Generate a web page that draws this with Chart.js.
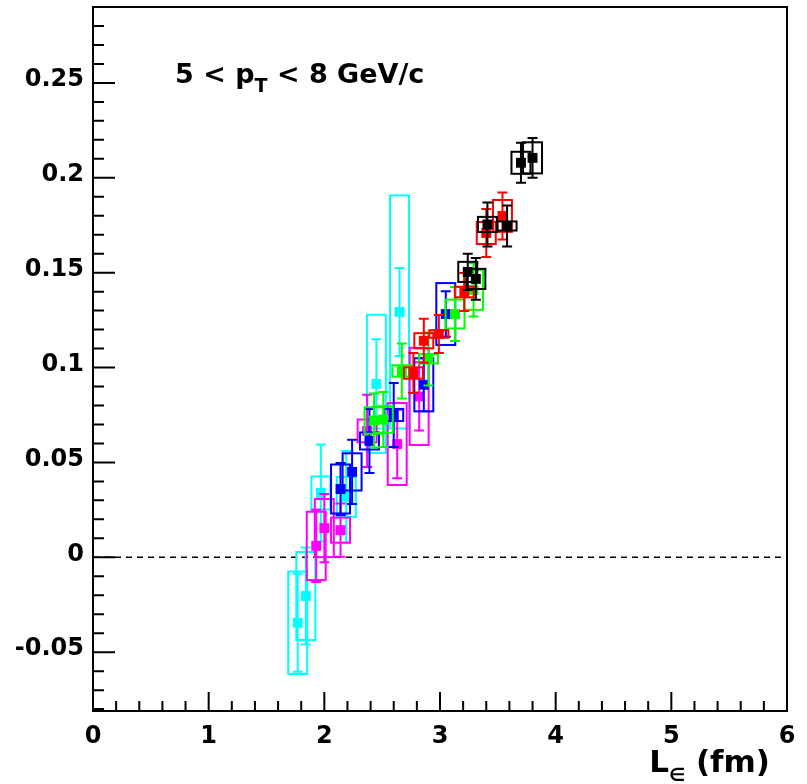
<!DOCTYPE html>
<html>
<head>
<meta charset="utf-8">
<script src="https://cdn.jsdelivr.net/npm/chart.js@4.4.1/dist/chart.umd.min.js"></script>
<style>
  html, body { margin: 0; padding: 0; background: #fff; }
  canvas { display: block; }
</style>
</head>
<body>
<canvas id="c" width="807" height="784"></canvas>
<script>
// Values: path length L (fm), value, stat. error, syst. error (box half-height).
const cyanL    = [1.77, 1.84, 1.97, 2.19, 2.45, 2.65];
const cyanV    = [-0.0345, -0.0204, 0.0339, 0.0318, 0.0914, 0.1293];
const cyanStat = [0.0258, 0.0256, 0.0256, 0.0242, 0.0235, 0.0232];
const cyanSys  = [0.027, 0.0232, 0.0087, 0.0105, 0.0364, 0.0614];

const magentaL    = [1.93, 2.0, 2.14, 2.37, 2.63, 2.82];
const magentaV    = [0.006, 0.0154, 0.0143, 0.0666, 0.0597, 0.0848];
const magentaStat = [0.019, 0.018, 0.014, 0.019, 0.018, 0.018];
const magentaSys  = [0.018, 0.0153, 0.0066, 0.006, 0.0216, 0.0256];

const blueL    = [2.14, 2.24, 2.39, 2.60, 2.86, 3.05];
const blueV    = [0.036, 0.045, 0.0613, 0.075, 0.0909, 0.1282];
const blueStat = [0.0137, 0.0169, 0.0169, 0.0169, 0.014, 0.012];
const blueSys  = [0.0129, 0.0098, 0.0045, 0.0032, 0.014, 0.0163];

const greenL    = [2.43, 2.51, 2.67, 2.90, 3.13, 3.29];
const greenV    = [0.0721, 0.0726, 0.0982, 0.1046, 0.1282, 0.1409];
const greenStat = [0.0142, 0.0145, 0.0145, 0.014, 0.0142, 0.014];
const greenSys  = [0.007, 0.007, 0.003, 0.0025, 0.0076, 0.0105];

const redL    = [2.77, 2.86, 2.99, 3.21, 3.40, 3.54];
const redV    = [0.0971, 0.1141, 0.1177, 0.1398, 0.1709, 0.1799];
const redStat = [0.0105, 0.0116, 0.010, 0.010, 0.0127, 0.0124];
const redSys  = [0.003, 0.004, 0.002, 0.0028, 0.0058, 0.0084];

const blackL    = [3.24, 3.31, 3.41, 3.58, 3.70, 3.80];
const blackV    = [0.1504, 0.1467, 0.1754, 0.1746, 0.2079, 0.2105];
const blackStat = [0.0095, 0.011, 0.0116, 0.0108, 0.0105, 0.0105];
const blackSys  = [0.0053, 0.0053, 0.004, 0.0024, 0.0058, 0.0082];

const xTicks = [0, 1, 2, 3, 4, 5, 6];
const yTickLabels = ['-0.05', '0', '0.05', '0.1', '0.15', '0.2', '0.25'];

const SERIES = [
  { color: '#00ffff', x: cyanL,    y: cyanV,    stat: cyanStat,    sys: cyanSys },
  { color: '#ff00ff', x: magentaL, y: magentaV, stat: magentaStat, sys: magentaSys },
  { color: '#0000ff', x: blueL,    y: blueV,    stat: blueStat,    sys: blueSys },
  { color: '#00ff00', x: greenL,   y: greenV,   stat: greenStat,   sys: greenSys },
  { color: '#ff0000', x: redL,     y: redV,     stat: redStat,     sys: redSys },
  { color: '#000000', x: blackL,   y: blackV,   stat: blackStat,   sys: blackSys },
];

const FONT = "'DejaVu Sans', sans-serif";
const BOX_HALF_W = 0.082;  // fm, half width of the systematic boxes
const CAP = 5;             // px, half width of error bar caps

// systematic boxes + stat error bars, drawn just under each dataset's markers
const errorBoxes = {
  id: 'errorBoxes',
  beforeDatasetDraw(chart, args) {
    const s = SERIES[args.index];
    const xs = chart.scales.x, ys = chart.scales.y;
    const c = chart.ctx;
    c.save();
    c.strokeStyle = s.color;
    c.lineWidth = 2;
    s.x.forEach((lx, i) => {
      const v = s.y[i];
      const x0 = xs.getPixelForValue(lx - BOX_HALF_W), x1 = xs.getPixelForValue(lx + BOX_HALF_W);
      const bt = ys.getPixelForValue(v + s.sys[i]), bb = ys.getPixelForValue(v - s.sys[i]);
      c.strokeRect(x0, bt, x1 - x0, bb - bt);
      const px = xs.getPixelForValue(lx);
      const st = ys.getPixelForValue(v + s.stat[i]), sb = ys.getPixelForValue(v - s.stat[i]);
      c.beginPath();
      c.moveTo(px, st); c.lineTo(px, sb);
      c.moveTo(px - CAP, st); c.lineTo(px + CAP, st);
      c.moveTo(px - CAP, sb); c.lineTo(px + CAP, sb);
      c.stroke();
    });
    c.restore();
  }
};

// ROOT-style frame: inward ticks, dashed zero line, labels
const frame = {
  id: 'frame',
  beforeDatasetsDraw(chart) {
    const { ctx: c, chartArea: a } = chart;
    const y0 = chart.scales.y.getPixelForValue(0);
    c.save();
    c.strokeStyle = '#000';
    c.lineWidth = 1.5;
    c.setLineDash([6, 5]);
    c.beginPath(); c.moveTo(a.left, y0); c.lineTo(a.right, y0); c.stroke();
    c.restore();
  },
  afterDraw(chart) {
    const { ctx: c, chartArea: a } = chart;
    const xs = chart.scales.x, ys = chart.scales.y;
    c.save();
    c.strokeStyle = '#000';
    c.lineWidth = 2;
    c.strokeRect(a.left, a.top, a.right - a.left, a.bottom - a.top);
    c.beginPath();
    for (let i = 0; i <= 30; i++) {
      const px = xs.getPixelForValue(i * 0.2);
      const len = i % 5 === 0 ? 19 : 10;
      c.moveTo(px, a.bottom); c.lineTo(px, a.bottom - len);
    }
    for (let i = -8; i <= 29; i++) {
      const py = ys.getPixelForValue(i * 0.01);
      const len = i % 5 === 0 ? 22 : 11;
      c.moveTo(a.left, py); c.lineTo(a.left + len, py);
    }
    c.stroke();

    c.fillStyle = '#000';
    c.textBaseline = 'alphabetic';
    // "5 < pT < 8 GeV/c"
    let x = 175;
    c.font = 'bold 27px ' + FONT;
    c.textAlign = 'left';
    c.fillText('5 < p', x, 83);
    x += c.measureText('5 < p').width;
    c.font = 'bold 19px ' + FONT;
    c.fillText('T', x, 92);
    x += c.measureText('T').width;
    c.font = 'bold 27px ' + FONT;
    c.fillText(' < 8 GeV/c', x, 83);

    // axis title "L∈ (fm)", right aligned
    c.font = 'bold 31px ' + FONT;
    const wL = c.measureText('L').width, wR = c.measureText(' (fm)').width;
    c.font = 'bold 18px ' + FONT;
    const wE = c.measureText('\u2208').width;
    let tx = 770 - (wL + wE + wR);
    c.font = 'bold 31px ' + FONT;
    c.fillText('L', tx, 772);
    tx += wL;
    c.font = 'bold 18px ' + FONT;
    c.fillText('\u2208', tx, 781);
    tx += wE;
    c.font = 'bold 31px ' + FONT;
    c.fillText(' (fm)', tx, 772);
    c.restore();
  }
};

new Chart(document.getElementById('c'), {
  type: 'scatter',
  data: {
    datasets: SERIES.map((s, i) => ({
      data: s.x.map((lx, j) => ({ x: lx, y: s.y[j] })),
      backgroundColor: s.color,
      borderColor: s.color,
      borderWidth: 0,
      pointStyle: 'rect',
      pointRadius: 7,
      order: SERIES.length - 1 - i,
    })),
  },
  options: {
    responsive: false,
    animation: false,
    events: [],
    layout: { padding: { top: 7, right: 20, left: 0, bottom: 0 } },
    plugins: { legend: { display: false }, tooltip: { enabled: false } },
    scales: {
      x: {
        type: 'linear', min: xTicks[0], max: xTicks[xTicks.length - 1],
        grid: { display: false, drawTicks: false }, border: { display: false },
        ticks: { stepSize: 1, padding: 11, color: '#000', font: { family: FONT, size: 24, weight: 'bold' } },
        afterFit(s) { s.height = 73; s.paddingLeft = 0; s.paddingRight = 0; },
      },
      y: {
        type: 'linear', min: -0.081, max: 0.29,
        grid: { display: false, drawTicks: false }, border: { display: false },
        ticks: {
          stepSize: 0.05, includeBounds: false, padding: 9, labelOffset: -3, color: '#000',
          font: { family: FONT, size: 24, weight: 'bold' },
          callback: (v) => yTickLabels.find(t => Math.abs(parseFloat(t) - v) < 1e-6) ?? '',
        },
        afterFit(s) { s.width = 93; s.paddingTop = 0; s.paddingBottom = 0; },
      },
    },
  },
  plugins: [errorBoxes, frame],
});
</script>
</body>
</html>
